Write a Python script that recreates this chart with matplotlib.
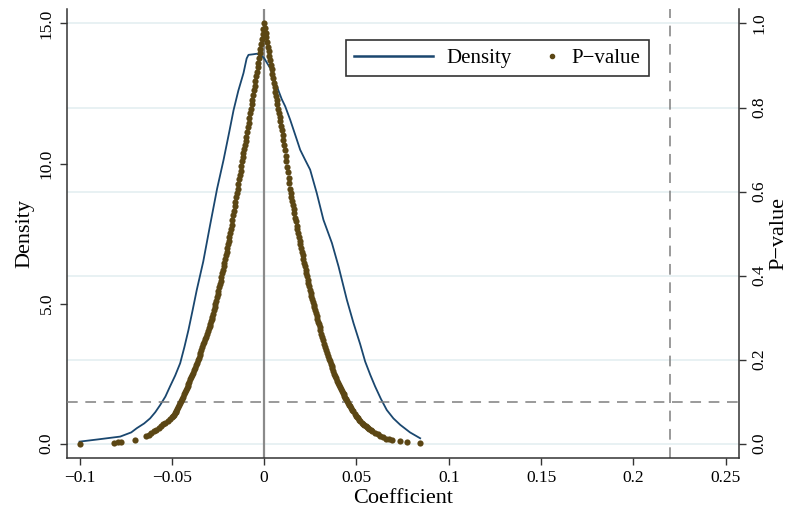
import numpy as np
import matplotlib
matplotlib.use("Agg")
import matplotlib.pyplot as plt
from matplotlib.lines import Line2D
from matplotlib.legend_handler import HandlerLine2D

plt.rcParams['font.family'] = ['Liberation Serif', 'DejaVu Serif']

# kernel density of placebo coefficients
dens_x = [-0.1000, -0.0900, -0.0780, -0.0720, -0.0690, -0.0650, -0.0618, -0.0590,
          -0.0563, -0.0535, -0.0510, -0.0482, -0.0455, -0.0432, -0.0410, -0.0388,
          -0.0365, -0.0330, -0.0293, -0.0255, -0.0220, -0.0190, -0.0166, -0.0140,
          -0.0112, -0.0095, -0.0085, -0.0060, -0.0040, -0.0015, 0.0000, 0.0033,
          0.0069, 0.0095, 0.0114, 0.0141, 0.0177, 0.0195, 0.0222, 0.0249,
          0.0285, 0.0321, 0.0367, 0.0403, 0.0448, 0.0484, 0.0520, 0.0547,
          0.0575, 0.0601, 0.0632, 0.0664, 0.0700, 0.0737, 0.0790, 0.0845]
dens_y = [0.07, 0.15, 0.25, 0.40, 0.55, 0.72, 0.90, 1.12,
          1.38, 1.68, 2.04, 2.43, 2.87, 3.45, 4.06, 4.75,
          5.49, 6.50, 7.80, 9.10, 10.13, 11.10, 11.90, 12.60,
          13.23, 13.75, 13.88, 13.90, 13.92, 13.85, 13.76, 13.40,
          12.75, 12.30, 12.04, 11.56, 10.85, 10.49, 10.13, 9.78,
          8.94, 7.99, 7.16, 6.32, 5.13, 4.30, 3.55, 2.93,
          2.45, 2.04, 1.60, 1.20, 0.90, 0.67, 0.40, 0.19]

# coefficient / p-value pairs, left branch (tail up to the peak)
coef_left = [-0.1000, -0.0812, -0.0790, -0.0775, -0.0700, -0.0640, -0.0625, -0.0612,
             -0.0598, -0.0585, -0.0572, -0.0560, -0.0548, -0.0535, -0.0522, -0.0510,
             -0.0500, -0.0495, -0.0490, -0.0485, -0.0480, -0.0475, -0.0470, -0.0465,
             -0.0460, -0.0455, -0.0450, -0.0445, -0.0440, -0.0435, -0.0430, -0.0425,
             -0.0420, -0.0415, -0.0410, -0.0405, -0.0400, -0.0395, -0.0390, -0.0385,
             -0.0380, -0.0375, -0.0370, -0.0365, -0.0360, -0.0355, -0.0350, -0.0345,
             -0.0340, -0.0335, -0.0330, -0.0325, -0.0320, -0.0315, -0.0310, -0.0305,
             -0.0300, -0.0296, -0.0292, -0.0288, -0.0284, -0.0280, -0.0276, -0.0272,
             -0.0268, -0.0264, -0.0260, -0.0256, -0.0252, -0.0248, -0.0244, -0.0240,
             -0.0236, -0.0232, -0.0228, -0.0224, -0.0220, -0.0216, -0.0212, -0.0208,
             -0.0204, -0.0200, -0.0196, -0.0192, -0.0188, -0.0184, -0.0180, -0.0176,
             -0.0172, -0.0168, -0.0164, -0.0160, -0.0156, -0.0152, -0.0148, -0.0144,
             -0.0140, -0.0136, -0.0132, -0.0128, -0.0124, -0.0120, -0.0116, -0.0112,
             -0.0108, -0.0104, -0.0100, -0.0096, -0.0092, -0.0088, -0.0084, -0.0080,
             -0.0076, -0.0072, -0.0068, -0.0064, -0.0060, -0.0056, -0.0052, -0.0048,
             -0.0044, -0.0040, -0.0036, -0.0032, -0.0028, -0.0024, -0.0020, -0.0016,
             -0.0012, -0.0008, -0.0004, 0.0000]
pval_left = [0.000, 0.002, 0.003, 0.003, 0.009, 0.017, 0.021, 0.025,
             0.029, 0.033, 0.038, 0.042, 0.046, 0.050, 0.054, 0.058,
             0.063, 0.066, 0.069, 0.072, 0.075, 0.078, 0.082, 0.086,
             0.091, 0.096, 0.101, 0.106, 0.111, 0.117, 0.123, 0.128,
             0.133, 0.138, 0.142, 0.147, 0.153, 0.158, 0.164, 0.169,
             0.175, 0.181, 0.187, 0.192, 0.198, 0.204, 0.210, 0.216,
             0.222, 0.229, 0.236, 0.242, 0.248, 0.254, 0.261, 0.268,
             0.275, 0.280, 0.285, 0.291, 0.296, 0.302, 0.309, 0.317,
             0.324, 0.332, 0.340, 0.348, 0.356, 0.364, 0.372, 0.380,
             0.388, 0.397, 0.405, 0.414, 0.422, 0.431, 0.439, 0.448,
             0.456, 0.465, 0.474, 0.483, 0.492, 0.501, 0.510, 0.521,
             0.532, 0.543, 0.554, 0.565, 0.576, 0.586, 0.597, 0.607,
             0.618, 0.629, 0.640, 0.650, 0.661, 0.672, 0.682, 0.691,
             0.701, 0.710, 0.720, 0.731, 0.742, 0.753, 0.764, 0.775,
             0.786, 0.797, 0.808, 0.819, 0.830, 0.841, 0.852, 0.863,
             0.874, 0.885, 0.896, 0.907, 0.918, 0.929, 0.940, 0.952,
             0.964, 0.976, 0.988, 1.000]

# right branch (peak down to the tail)
coef_right = [0.0004, 0.0008, 0.0012, 0.0016, 0.0020, 0.0024, 0.0028, 0.0032,
              0.0036, 0.0040, 0.0044, 0.0048, 0.0052, 0.0056, 0.0060, 0.0064,
              0.0068, 0.0072, 0.0076, 0.0080, 0.0084, 0.0088, 0.0092, 0.0096,
              0.0100, 0.0104, 0.0108, 0.0112, 0.0116, 0.0120, 0.0124, 0.0128,
              0.0132, 0.0136, 0.0140, 0.0144, 0.0148, 0.0152, 0.0156, 0.0160,
              0.0164, 0.0168, 0.0172, 0.0176, 0.0180, 0.0184, 0.0188, 0.0192,
              0.0196, 0.0200, 0.0204, 0.0208, 0.0212, 0.0216, 0.0220, 0.0224,
              0.0228, 0.0232, 0.0236, 0.0240, 0.0244, 0.0248, 0.0252, 0.0256,
              0.0260, 0.0264, 0.0268, 0.0272, 0.0276, 0.0280, 0.0284, 0.0288,
              0.0292, 0.0296, 0.0300, 0.0305, 0.0310, 0.0315, 0.0320, 0.0325,
              0.0330, 0.0335, 0.0340, 0.0345, 0.0350, 0.0355, 0.0360, 0.0365,
              0.0370, 0.0375, 0.0380, 0.0385, 0.0390, 0.0395, 0.0400, 0.0405,
              0.0410, 0.0415, 0.0420, 0.0425, 0.0430, 0.0435, 0.0440, 0.0445,
              0.0450, 0.0455, 0.0460, 0.0465, 0.0470, 0.0475, 0.0482, 0.0490,
              0.0496, 0.0502, 0.0508, 0.0514, 0.0521, 0.0528, 0.0535, 0.0542,
              0.0549, 0.0556, 0.0563, 0.0570, 0.0578, 0.0585, 0.0600, 0.0615,
              0.0630, 0.0645, 0.0660, 0.0675, 0.0690, 0.0737, 0.0773, 0.0845]
pval_right = [0.989, 0.978, 0.967, 0.956, 0.945, 0.934, 0.923, 0.912,
              0.901, 0.891, 0.880, 0.870, 0.859, 0.849, 0.838, 0.828,
              0.818, 0.808, 0.797, 0.787, 0.777, 0.767, 0.757, 0.747,
              0.735, 0.723, 0.710, 0.698, 0.685, 0.672, 0.659, 0.646,
              0.633, 0.620, 0.607, 0.597, 0.587, 0.577, 0.568, 0.558,
              0.548, 0.538, 0.529, 0.519, 0.510, 0.501, 0.492, 0.483,
              0.474, 0.466, 0.457, 0.448, 0.439, 0.431, 0.422, 0.414,
              0.406, 0.398, 0.390, 0.382, 0.374, 0.366, 0.359, 0.352,
              0.345, 0.338, 0.331, 0.324, 0.317, 0.310, 0.303, 0.296,
              0.290, 0.284, 0.278, 0.270, 0.262, 0.254, 0.246, 0.238,
              0.230, 0.222, 0.215, 0.208, 0.202, 0.196, 0.190, 0.185,
              0.179, 0.172, 0.166, 0.160, 0.155, 0.149, 0.144, 0.139,
              0.135, 0.130, 0.126, 0.121, 0.117, 0.113, 0.109, 0.105,
              0.101, 0.097, 0.093, 0.089, 0.085, 0.081, 0.077, 0.070,
              0.066, 0.063, 0.060, 0.057, 0.053, 0.050, 0.047, 0.044,
              0.041, 0.039, 0.036, 0.034, 0.032, 0.030, 0.026, 0.022,
              0.019, 0.015, 0.012, 0.010, 0.008, 0.005, 0.004, 0.001]

x_ticks = [-0.1, -0.05, 0, 0.05, 0.1, 0.15, 0.2, 0.25]
x_labels = ['\u22120.1', '\u22120.05', '0', '0.05', '0.1', '0.15', '0.2', '0.25']
dens_ticks = [0, 5, 10, 15]
dens_labels = ['0.0', '5.0', '10.0', '15.0']
p_ticks = [0, 0.2, 0.4, 0.6, 0.8, 1.0]
p_labels = ['0.0', '0.2', '0.4', '0.6', '0.8', '1.0']

true_coef = 0.22
p_cut = 0.1

navy = '#1a476f'
brown = '#5b4614'
grid_col = '#e2edf0'
dash_col = '#7f7f7f'

fig = plt.figure(figsize=(7.93, 5.13), dpi=100)
ax = fig.add_axes([0.0845, 0.108, 0.8474, 0.8735])
ax2 = ax.twinx()

ax.set_xlim(-0.1068, 0.2572)
ax.set_ylim(-0.5, 15.5)
ax2.set_ylim(-0.5 / 15, 15.5 / 15)

# grid follows the p-value ticks
for p in p_ticks:
    ax.axhline(p * 15, color=grid_col, lw=1.1, zorder=0)

ax.axvline(0, color='#8a8a8a', lw=1.6, zorder=1)
ax.axvline(true_coef, color=dash_col, lw=1.1, dashes=(7, 5), zorder=1)
ax2.axhline(p_cut, color=dash_col, lw=1.1, dashes=(7, 5), zorder=1)

ax.plot(dens_x, dens_y, color=navy, lw=1.3, zorder=2)
ax2.scatter(coef_left + coef_right, pval_left + pval_right, s=20, color=brown,
            linewidths=0, zorder=3)

ax.set_xticks(x_ticks)
ax.set_xticklabels(x_labels, fontsize=12.5)
ax.set_yticks(dens_ticks)
ax.set_yticklabels(dens_labels, fontsize=12.5, rotation=90, va='center')
ax2.set_yticks(p_ticks)
ax2.set_yticklabels(p_labels, fontsize=12.5, rotation=90, va='center')

for a in (ax, ax2):
    a.tick_params(direction='out', length=5, width=1, color='#333333', pad=4)
    for s in a.spines.values():
        s.set_visible(False)
ax.spines['left'].set_visible(True)
ax.spines['bottom'].set_visible(True)
ax2.spines['right'].set_visible(True)
for s in (ax.spines['left'], ax.spines['bottom'], ax2.spines['right']):
    s.set_color('#333333')
    s.set_linewidth(1.1)

ax.set_xlabel('Coefficient', fontsize=16, labelpad=2)
ax.set_ylabel('Density', fontsize=16, labelpad=3)
ax2.set_ylabel('P\u2212value', fontsize=16, labelpad=1)


class DotRight(HandlerLine2D):
    # put the legend dot near the label instead of mid handle
    def create_artists(self, legend, orig_handle, xdescent, ydescent, width,
                       height, fontsize, trans):
        arts = super().create_artists(legend, orig_handle, xdescent, ydescent,
                                      width, height, fontsize, trans)
        for a in arts:
            a.set_xdata(np.asarray(a.get_xdata()) + width / 2 - 4.5)
        return arts


h1 = Line2D([], [], color=navy, lw=1.8)
h2 = Line2D([], [], color=brown, ls='none', marker='o', markersize=3)
leg = ax.legend([h1, h2], ['Density', 'P\u2212value'], ncol=2, loc='upper left',
                bbox_to_anchor=(0.415, 0.932), fontsize=15, frameon=True,
                fancybox=False, edgecolor='black', handlelength=3.8,
                handletextpad=0.63, columnspacing=-1.55, borderpad=0.4,
                borderaxespad=0, handler_map={h2: DotRight()})
leg.get_frame().set_linewidth(1.2)
leg.set_zorder(5)

fig.savefig('out.png', dpi=100)
